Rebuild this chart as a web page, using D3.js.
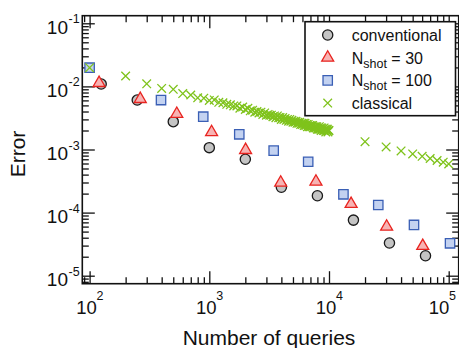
<!DOCTYPE html>
<html>
<head>
<meta charset="utf-8">
<script src="https://cdn.jsdelivr.net/npm/d3@7"></script>
<style>
  body { margin: 0; background: #fff; }
  text { font-family: "Liberation Sans", Arial, Helvetica, sans-serif; fill: #111; }
</style>
</head>
<body>
<div id="chart"></div>
<script>

// data
var convX = [125, 250, 500, 1000, 2000, 4000, 8000, 16000, 32000, 64000];
var convY = [0.0109, 0.00608, 0.00276, 0.00107, 0.00070, 0.000252, 0.000185, 0.000076, 0.000033, 0.0000207];

var shot30X = [120, 265, 535, 1045, 2010, 3950, 7780, 15300, 30300, 60700];
var shot30Y = [0.0113, 0.0063, 0.00366, 0.00188, 0.00098, 0.000298, 0.000309, 0.000137, 0.0000598, 0.0000296];

var shot100X = [100, 395, 890, 1780, 3450, 6700, 13200, 25800, 51300, 102600];
var shot100Y = [0.0198, 0.00608, 0.00331, 0.00174, 0.00096, 0.00064, 0.000195, 0.000132, 0.0000637, 0.0000326];

var classX = [100, 200, 300, 400, 500, 600, 700, 800, 900, 1000,
  1100, 1200, 1300, 1400, 1500, 1600, 1700, 1800, 1900, 2000,
  2100, 2200, 2300, 2400, 2500, 2600, 2700, 2800, 2900, 3000,
  3100, 3200, 3300, 3400, 3500, 3600, 3700, 3800, 3900, 4000,
  4100, 4200, 4300, 4400, 4500, 4600, 4700, 4800, 4900, 5000,
  5100, 5200, 5300, 5400, 5500, 5600, 5700, 5800, 5900, 6000,
  6100, 6200, 6300, 6400, 6500, 6600, 6700, 6800, 6900, 7000,
  7100, 7200, 7300, 7400, 7500, 7600, 7700, 7800, 7900, 8000,
  8100, 8200, 8300, 8400, 8500, 8600, 8700, 8800, 8900, 9000,
  9100, 9200, 9300, 9400, 9500, 9600, 9700, 9800, 9900, 10000,
  20000, 30000, 40000, 50000, 60000, 70000, 80000, 90000, 100000];
var classY = [0.0198, 0.0146, 0.0110, 0.0093, 0.0090, 0.0077, 0.0073, 0.0066, 0.0065, 0.0060,
  0.0061, 0.0056, 0.0055, 0.0052, 0.0051, 0.0049, 0.0049, 0.0045, 0.0047, 0.0043,
  0.0045, 0.0041, 0.0042, 0.0039, 0.0040, 0.0038, 0.0039, 0.0036, 0.0038, 0.0035,
  0.0036, 0.0035, 0.0035, 0.0033, 0.0034, 0.0032, 0.0034, 0.0032, 0.0032, 0.0030,
  0.0032, 0.0030, 0.0031, 0.0029, 0.0030, 0.0028, 0.0030, 0.0028, 0.0029, 0.0027,
  0.0028, 0.0027, 0.0028, 0.0026, 0.0027, 0.0026, 0.0027, 0.0025, 0.0026, 0.0025,
  0.0026, 0.0024, 0.0026, 0.0024, 0.0025, 0.0023, 0.0025, 0.0023, 0.0024, 0.0023,
  0.0024, 0.0023, 0.0024, 0.0022, 0.0023, 0.0022, 0.0023, 0.0022, 0.0023, 0.0021,
  0.0022, 0.0021, 0.0023, 0.0021, 0.0022, 0.0020, 0.0022, 0.0021, 0.0021, 0.0020,
  0.0022, 0.0020, 0.0021, 0.0019, 0.0021, 0.0020, 0.0021, 0.0019, 0.0020, 0.0020,
  0.00133, 0.00110, 0.00095, 0.00085, 0.00078, 0.00072, 0.00067, 0.00063, 0.00059];

// axis tick labels
var xMajor = [1e2, 1e3, 1e4, 1e5];
var xExp = ["2", "3", "4", "5"];
var yMajor = [1e-1, 1e-2, 1e-3, 1e-4, 1e-5];
var yExp = ["-1", "-2", "-3", "-4", "-5"];

var legendNames = ["conventional", "N", "N", "classical"];

// frame of the plot, in pixels
var pLeft = 82.3, pRight = 458.7, pTop = 15.7, pBottom = 283.7;

var svg = d3.select("#chart")
  .append("svg")
    .attr("width", 459)
    .attr("height", 348);

// log scales anchored on the decade ticks
var x = d3.scaleLog().domain([1e2, 1e5]).range([89.6, 448.7]);
var y = d3.scaleLog().domain([1e-1, 1e-5]).range([23.3, 275.7]);
x.domain([x.invert(pLeft), x.invert(pRight)]).range([pLeft, pRight]);
y.domain([y.invert(pTop), y.invert(pBottom)]).range([pTop, pBottom]);

var xMinor = x.ticks().filter(function(v) { return xMajor.every(function(m) { return Math.abs(v / m - 1) > 1e-6; }); });
var yMinor = y.ticks().filter(function(v) { return yMajor.every(function(m) { return Math.abs(v / m - 1) > 1e-6; }); });

// ticks on all four sides, pointing inward
function ticks(axisFn, scale, vals, size, tr) {
  svg.append("g")
    .attr("transform", tr)
    .call(axisFn(scale).tickValues(vals).tickSize(-size).tickFormat(""))
    .call(function(g) {
      g.select(".domain").remove();
      g.selectAll("line").attr("stroke", "#111").attr("stroke-width", 1.3);
    });
}
ticks(d3.axisBottom, x, xMajor, 12.5, "translate(0," + pBottom + ")");
ticks(d3.axisBottom, x, xMinor, 6.5, "translate(0," + pBottom + ")");
ticks(d3.axisTop, x, xMajor, 12.5, "translate(0," + pTop + ")");
ticks(d3.axisTop, x, xMinor, 6.5, "translate(0," + pTop + ")");
ticks(d3.axisLeft, y, yMajor, 12.5, "translate(" + pLeft + ",0)");
ticks(d3.axisLeft, y, yMinor, 6.5, "translate(" + pLeft + ",0)");
ticks(d3.axisRight, y, yMajor, 12.5, "translate(" + pRight + ",0)");
ticks(d3.axisRight, y, yMinor, 6.5, "translate(" + pRight + ",0)");

// frame
svg.append("rect")
  .attr("x", pLeft).attr("y", pTop)
  .attr("width", pRight - pLeft).attr("height", pBottom - pTop)
  .attr("fill", "none").attr("stroke", "#111").attr("stroke-width", 1.6);

// tick labels 10^n
var xl = svg.append("g");
xMajor.forEach(function(v, i) {
  var cx = Math.min(x(v) - 3, 439);
  xl.append("text").attr("x", cx).attr("y", 314)
    .attr("text-anchor", "middle").attr("font-size", 18.5).text("10");
  xl.append("text").attr("x", cx + 10).attr("y", 300)
    .attr("font-size", 12.5).text(xExp[i]);
});
var yl = svg.append("g");
yMajor.forEach(function(v, i) {
  yl.append("text").attr("x", 68).attr("y", y(v) + 10.5)
    .attr("text-anchor", "end").attr("font-size", 19).text("10");
  yl.append("text").attr("x", 68.5).attr("y", y(v))
    .attr("font-size", 12.5).text(yExp[i]);
});

// axis titles
svg.append("text")
  .attr("x", 269).attr("y", 345)
  .attr("text-anchor", "middle").attr("font-size", 21)
  .text("Number of queries");
svg.append("text")
  .attr("transform", "translate(25,154) rotate(-90)")
  .attr("text-anchor", "middle").attr("font-size", 21)
  .text("Error");

// marker shapes
var circ = d3.symbol(d3.symbolCircle, 82)();
var tri = d3.symbol(d3.symbolTriangle, 62)();
var sq = d3.symbol(d3.symbolSquare, 88)();
var cross = "M-4.3,-4.3L4.3,4.3M-4.3,4.3L4.3,-4.3";

var styles = [
  {path: circ, fill: "#c4c4c4", stroke: "#1a1a1a"},
  {path: tri, fill: "#f7b3b3", stroke: "#e8231f"},
  {path: sq, fill: "#c3d2f1", stroke: "#3a5fb5"},
  {path: cross, fill: "none", stroke: "#7fc31c"}
];

function series(xs, ys, st) {
  svg.append("g").selectAll("path")
    .data(xs.map(function(v, i) { return [v, ys[i]]; }))
    .enter()
    .append("path")
      .attr("transform", function(d) { return "translate(" + x(d[0]) + "," + y(d[1]) + ")"; })
      .attr("d", st.path)
      .attr("fill", st.fill)
      .attr("stroke", st.stroke)
      .attr("stroke-width", 1.3);
}
series(convX, convY, styles[0]);
series(shot30X, shot30Y, styles[1]);
series(shot100X, shot100Y, styles[2]);
series(classX, classY, styles[3]);

// legend
var lg = svg.append("g");
lg.append("rect")
  .attr("x", 305).attr("y", 21.7).attr("width", 150.5).attr("height", 94)
  .attr("fill", "#fff").attr("stroke", "#111").attr("stroke-width", 1.6);
legendNames.forEach(function(name, i) {
  var cy = 35 + i * 22.7;
  lg.append("path")
    .attr("transform", "translate(327.7," + cy + ")")
    .attr("d", styles[i].path)
    .attr("fill", styles[i].fill)
    .attr("stroke", styles[i].stroke)
    .attr("stroke-width", 1.3);
  var t = lg.append("text").attr("x", 351.7).attr("y", cy + 6).attr("font-size", 16);
  if (i == 1 || i == 2) {
    t.append("tspan").text("N");
    t.append("tspan").attr("font-size", 12.5).attr("dy", 4).text("shot");
    t.append("tspan").attr("dy", -4).text(i == 1 ? " = 30" : " = 100");
  } else {
    t.text(name);
  }
});

</script>
</body>
</html>
